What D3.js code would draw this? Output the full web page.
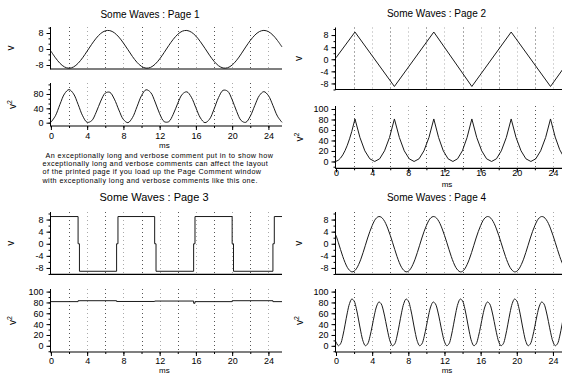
<!DOCTYPE html>
<html><head><meta charset="utf-8">
<script src="https://cdn.jsdelivr.net/npm/d3@7"></script>
<style>
body{margin:0;background:#fff}
svg{display:block}
text{font-family:"Liberation Sans",Arial,sans-serif;fill:#000}
</style>
</head><body>
<svg id="c" width="562" height="374"></svg>
<script>
// ---------------- DATA ----------------
const titles = ["Some Waves : Page 1", "Some Waves : Page 2", "Some Waves : Page 3", "Some Waves : Page 4"];
const xTicks = [0, 4, 8, 12, 16, 20, 24];
const xLabel = "ms";
const comment = [
  "An exceptionally long and verbose comment put in to show how",
  "exceptionally long and verbose comments can affect the layout",
  "of the printed page if you load up the Page Comment window",
  "with exceptionally long and verbose comments like this one."
];

// Page 1 : sine wave, sampled every 0.5 ms
const p1_dt = 0.5;
const p1_v = [-1.05, -4.39, -7.15, -8.97, -9.6, -8.97, -7.15, -4.39, -1.05, 2.35, 5.41, 7.76, 9.08, 9.20, 8.11, 5.95, 3.00, -0.35, -3.75, -6.66, -8.69, -9.57, -9.19, -7.60, -5.00, -1.74, 1.69, 4.84, 7.36, 8.91, 9.27, 8.42, 6.45, 3.64, 0.34, -3.10, -6.14, -8.37, -9.50, -9.37, -8.01, -5.59, -2.43, 1.02, 4.25, 6.92, 8.69, 9.30, 8.69, 6.93, 4.25, 1.02];
const p1_v2 = [1.1, 19.3, 51.1, 80.4, 92.2, 80.4, 51.1, 19.3, 1.1, 5.5, 29.3, 60.2, 82.4, 84.7, 65.8, 35.4, 9.0, 0.1, 14.1, 44.4, 75.5, 91.7, 84.5, 57.7, 25.0, 3.0, 2.8, 23.5, 54.2, 79.3, 86.0, 70.9, 41.6, 13.2, 0.1, 9.6, 37.7, 70.1, 90.2, 87.8, 64.1, 31.2, 5.9, 1.0, 18.1, 47.9, 75.5, 86.5, 75.5, 48.0, 18.1, 1.0];

// Page 2 : triangle wave (vertices) and its square
const p2_v_t = [0, 2.1, 6.46, 10.82, 15.03, 19.38, 23.73, 25.5];
const p2_v = [0.5, 9, -9, 9, -9, 9, -9, -1.6];
const p2_v2_t = [0, 0.25, 0.5, 0.75, 1, 1.25, 1.5, 1.75, 2.1,
  2.65, 3.19, 3.74, 4.28, 4.83, 5.37, 5.92, 6.46,
  7.01, 7.55, 8.10, 8.64, 9.19, 9.73, 10.28, 10.82,
  11.35, 11.87, 12.40, 12.93, 13.45, 13.98, 14.50, 15.03,
  15.57, 16.12, 16.66, 17.21, 17.75, 18.29, 18.84, 19.38,
  19.92, 20.47, 21.01, 21.56, 22.10, 22.64, 23.19, 23.73,
  24.25, 24.75, 25.25, 25.5];
const p2_v2 = [0.3, 2.3, 6.4, 12.5, 20.7, 30.9, 43.2, 57.5, 81,
  45.6, 20.3, 5.1, 0, 5.1, 20.3, 45.6, 81,
  45.6, 20.3, 5.1, 0, 5.1, 20.3, 45.6, 81,
  45.6, 20.3, 5.1, 0, 5.1, 20.3, 45.6, 81,
  45.6, 20.3, 5.1, 0, 5.1, 20.3, 45.6, 81,
  45.6, 20.3, 5.1, 0, 5.1, 20.3, 45.6, 81,
  46.5, 22.4, 6.9, 2.5];

// Page 3 : square wave (step points) and its square
const p3_t = [0, 3.0, 3.15, 7.25, 7.4, 11.45, 11.6, 15.75, 15.9, 20.0, 20.15, 24.5, 24.65, 25.5];
const p3_v = [9.0, 0, -9.1, 0, 9.0, 0, -9.1, 0, 9.0, 0, -9.1, 0, 9.0, 9.0];
const p3_v2_t = [0, 3.0, 7.25, 11.45, 15.75, 15.9, 20.0, 24.5, 25.5];
const p3_v2 = [81.5, 83.2, 81.8, 82.6, 78.5, 81.5, 83.2, 81.5, 81.5];

// Page 4 : faster sine, sampled every 0.25 ms
const p4_dt = 0.25;
const p4_v = [
  2.8, 0.5, -1.9, -4.2, -6.2, -7.8, -8.8, -9.3, -9.1, -8.3, -6.9, -5.1, -2.9, -0.5, 1.9, 4.1, 6.0, 7.6, 8.6, 9.0, 8.8, 8.0, 6.7, 4.9,
  2.8, 0.5, -1.9, -4.2, -6.2, -7.8, -8.8, -9.3, -9.1, -8.3, -6.9, -5.1, -2.9, -0.5, 1.9, 4.1, 6.0, 7.6, 8.6, 9.0, 8.8, 8.0, 6.7, 4.9,
  2.8, 0.5, -1.9, -4.2, -6.2, -7.8, -8.8, -9.3, -9.1, -8.3, -6.9, -5.1, -2.9, -0.5, 1.9, 4.1, 6.0, 7.6, 8.6, 9.0, 8.8, 8.0, 6.7, 4.9,
  2.8, 0.5, -1.9, -4.2, -6.2, -7.8, -8.8, -9.3, -9.1, -8.3, -6.9, -5.1, -2.9, -0.5, 1.9, 4.1, 6.0, 7.6, 8.6, 9.0, 8.8, 8.0, 6.7, 4.9,
  2.8, 0.5, -1.9, -4.2, -6.2, -7.8];
const p4_v2 = [
  7.7, 0.2, 3.7, 17.8, 38.7, 60.8, 78.1, 86.3, 82.8, 68.7, 47.7, 25.7, 8.2, 0.2, 3.5, 16.7, 36.2, 57.0, 73.3, 80.8, 77.4, 64.3, 44.8, 24.1,
  7.7, 0.2, 3.7, 17.8, 38.7, 60.8, 78.1, 86.3, 82.8, 68.7, 47.7, 25.7, 8.2, 0.2, 3.5, 16.7, 36.2, 57.0, 73.3, 80.8, 77.4, 64.3, 44.8, 24.1,
  7.7, 0.2, 3.7, 17.8, 38.7, 60.8, 78.1, 86.3, 82.8, 68.7, 47.7, 25.7, 8.2, 0.2, 3.5, 16.7, 36.2, 57.0, 73.3, 80.8, 77.4, 64.3, 44.8, 24.1,
  7.7, 0.2, 3.7, 17.8, 38.7, 60.8, 78.1, 86.3, 82.8, 68.7, 47.7, 25.7, 8.2, 0.2, 3.5, 16.7, 36.2, 57.0, 73.3, 80.8, 77.4, 64.3, 44.8, 24.1,
  7.7, 0.2, 3.7, 17.8, 38.7, 60.8];

// ---------------- BUILD ----------------
const svg = d3.select("#c");
const sampled = (arr, dt) => arr.map((v, i) => [i * dt, v]);
const paired = (ts, vs) => ts.map((t, i) => [t, vs[i]]);
const smooth = d3.curveCatmullRom.alpha(0.5);

const vMajor = [-8, -4, 0, 4, 8], vMinor = d3.range(-10, 10.6, 2);
const sqMajor = [0, 20, 40, 60, 80, 100], sqMinor = d3.range(-10, 105, 10);

const panels = [
  { title: titles[0], tx: 150, ty: 18, ts: 10, x0: 50.9, x1: 282, ax: 50.5, xlabY: 139, msY: 148,
    plots: [
      { data: sampled(p1_v, p1_dt), top: 27, bottom: 69, dom: [-10, 11], major: [-8, 0, 8], minor: d3.range(-8, 11, 8 / 3), lab: "v", lx: 14, curve: smooth },
      { data: sampled(p1_v2, p1_dt), top: 83, bottom: 126, dom: [-9.2, 110.6], major: [0, 40, 80], minor: d3.range(0, 111, 40 / 3), lab: "v2", lx: 16, curve: smooth, xaxis: true }
    ] },
  { title: titles[1], tx: 436.5, ty: 17, ts: 10, x0: 336, x1: 566.5, ax: 335.5, xlabY: 176.5, msY: 187,
    plots: [
      { data: paired(p2_v_t, p2_v), top: 27.5, bottom: 89.5, dom: [-10, 10.5], major: vMajor, minor: vMinor, lab: "v", lx: 302, curve: d3.curveLinear },
      { data: paired(p2_v2_t, p2_v2), top: 106, bottom: 168.3, dom: [-13, 105.7], major: sqMajor, minor: sqMinor, lab: "v2", lx: 303, curve: d3.curveLinear, xaxis: true }
    ] },
  { title: titles[2], tx: 154, ty: 201, ts: 11, x0: 50.9, x1: 282, ax: 50.5, xlabY: 363.5, msY: 372.5,
    plots: [
      { data: paired(p3_t, p3_v), top: 212, bottom: 274.3, dom: [-10.1, 10.5], major: vMajor, minor: vMinor, lab: "v", lx: 14, curve: d3.curveStepAfter },
      { data: paired(p3_v2_t, p3_v2), top: 289, bottom: 352, dom: [-11.4, 104.8], major: sqMajor, minor: sqMinor, lab: "v2", lx: 16, curve: d3.curveStepAfter, xaxis: true }
    ] },
  { title: titles[3], tx: 436.5, ty: 201, ts: 10, x0: 336, x1: 566.5, ax: 335.5, xlabY: 363.5, msY: 372.5,
    plots: [
      { data: sampled(p4_v, p4_dt), top: 212, bottom: 274.3, dom: [-10.1, 10.5], major: vMajor, minor: vMinor, lab: "v", lx: 302, curve: smooth },
      { data: sampled(p4_v2, p4_dt), top: 289, bottom: 352, dom: [-11.4, 104.8], major: sqMajor, minor: sqMinor, lab: "v2", lx: 303, curve: smooth, xaxis: true }
    ] }
];

const gridT = d3.range(2, 25, 2);
const xMinor = d3.range(0, 25.6, 2);
const fmt = d => String(Math.round(d));

panels.forEach((P, pi) => {
  const g = svg.append("g");
  const x = d3.scaleLinear().domain([0, 25.5]).range([P.x0, P.x1]);

  g.append("text").attr("x", P.tx).attr("y", P.ty).attr("text-anchor", "middle")
    .attr("font-size", P.ts).text(P.title);

  P.plots.forEach((p, k) => {
    const y = d3.scaleLinear().domain(p.dom).range([p.bottom, p.top]);
    const id = "clip" + pi + "_" + k;
    svg.append("clipPath").attr("id", id).append("rect")
      .attr("x", P.ax).attr("y", p.top - 2).attr("width", P.x1 - P.ax + 2).attr("height", p.bottom - p.top + 2);

    // dotted vertical grid
    g.append("g").selectAll("line").data(gridT).join("line")
      .attr("x1", d => Math.round(x(d)) + 0.5).attr("x2", d => Math.round(x(d)) + 0.5)
      .attr("y1", p.top).attr("y2", p.bottom)
      .attr("stroke", d => (d % 4 === 0) ? "#aaa" : "#555")
      .attr("stroke-width", 1).attr("stroke-dasharray", "1,3");

    // curve
    g.append("path").datum(p.data)
      .attr("clip-path", `url(#${id})`)
      .attr("fill", "none").attr("stroke", "#1a1a1a").attr("stroke-width", 1)
      .attr("d", d3.line().x(d => x(d[0])).y(d => y(d[1])).curve(p.curve));

    // y axis: minor + major ticks
    const ya = g.append("g").attr("transform", `translate(${P.ax},0)`);
    ya.call(d3.axisLeft(y).tickValues(p.minor.filter(v => v >= p.dom[0] && v <= p.dom[1])).tickSize(2).tickSizeOuter(0).tickFormat(""));
    ya.select(".domain").remove();
    const yb = g.append("g").attr("transform", `translate(${P.ax},0)`);
    yb.call(d3.axisLeft(y).tickValues(p.major).tickSize(4).tickSizeOuter(0).tickPadding(3).tickFormat(fmt));
    yb.select(".domain").remove();
    yb.selectAll("text").attr("font-size", 9).style("font-family", '"Liberation Sans",Arial,sans-serif');
    g.append("line").attr("x1", P.ax).attr("x2", P.ax).attr("y1", p.top).attr("y2", p.bottom + 0.5)
      .attr("stroke", "#000").attr("stroke-width", 1);

    // bottom line / x axis
    if (p.xaxis) {
      const xa = g.append("g").attr("transform", `translate(0,${p.bottom})`);
      xa.call(d3.axisBottom(x).tickValues(xMinor).tickSize(2).tickSizeOuter(0).tickFormat(""));
      xa.select(".domain").remove();
      const xb = g.append("g").attr("transform", `translate(0,${p.bottom})`);
      xb.call(d3.axisBottom(x).tickValues(xTicks).tickSize(4).tickSizeOuter(0).tickPadding(3).tickFormat(fmt));
      xb.select(".domain").remove();
      xb.selectAll("text").attr("font-size", 9).attr("dy", null).attr("y", P.xlabY - p.bottom)
        .style("font-family", '"Liberation Sans",Arial,sans-serif');
      g.append("text").attr("x", (P.x0 + Math.min(P.x1, 562)) / 2 - 2).attr("y", P.msY)
        .attr("text-anchor", "middle").attr("font-size", 8).text(xLabel);
    }
    g.append("line").attr("x1", P.ax).attr("x2", P.x1).attr("y1", p.bottom).attr("y2", p.bottom)
      .attr("stroke", "#000").attr("stroke-width", 1.2);
    g.selectAll(".tick line").attr("stroke", "#000");

    // y label (rotated)
    const cy = (p.top + p.bottom) / 2;
    const t = g.append("text").attr("transform", `translate(${p.lx},${cy}) rotate(-90)`)
      .attr("text-anchor", "middle").attr("font-size", 10);
    t.append("tspan").text("v");
    if (p.lab === "v2") t.append("tspan").attr("dy", -4).attr("font-size", 7).text("2");
  });
});

// page comment under page 1
svg.append("g").selectAll("text").data(comment).join("text")
  .attr("x", (d, i) => i === 0 ? 45.5 : 42.5)
  .attr("y", (d, i) => 157.5 + i * 8.4)
  .attr("font-size", 7.2)
  .attr("letter-spacing", 0.42)
  .text(d => d);
</script>
</body></html>
